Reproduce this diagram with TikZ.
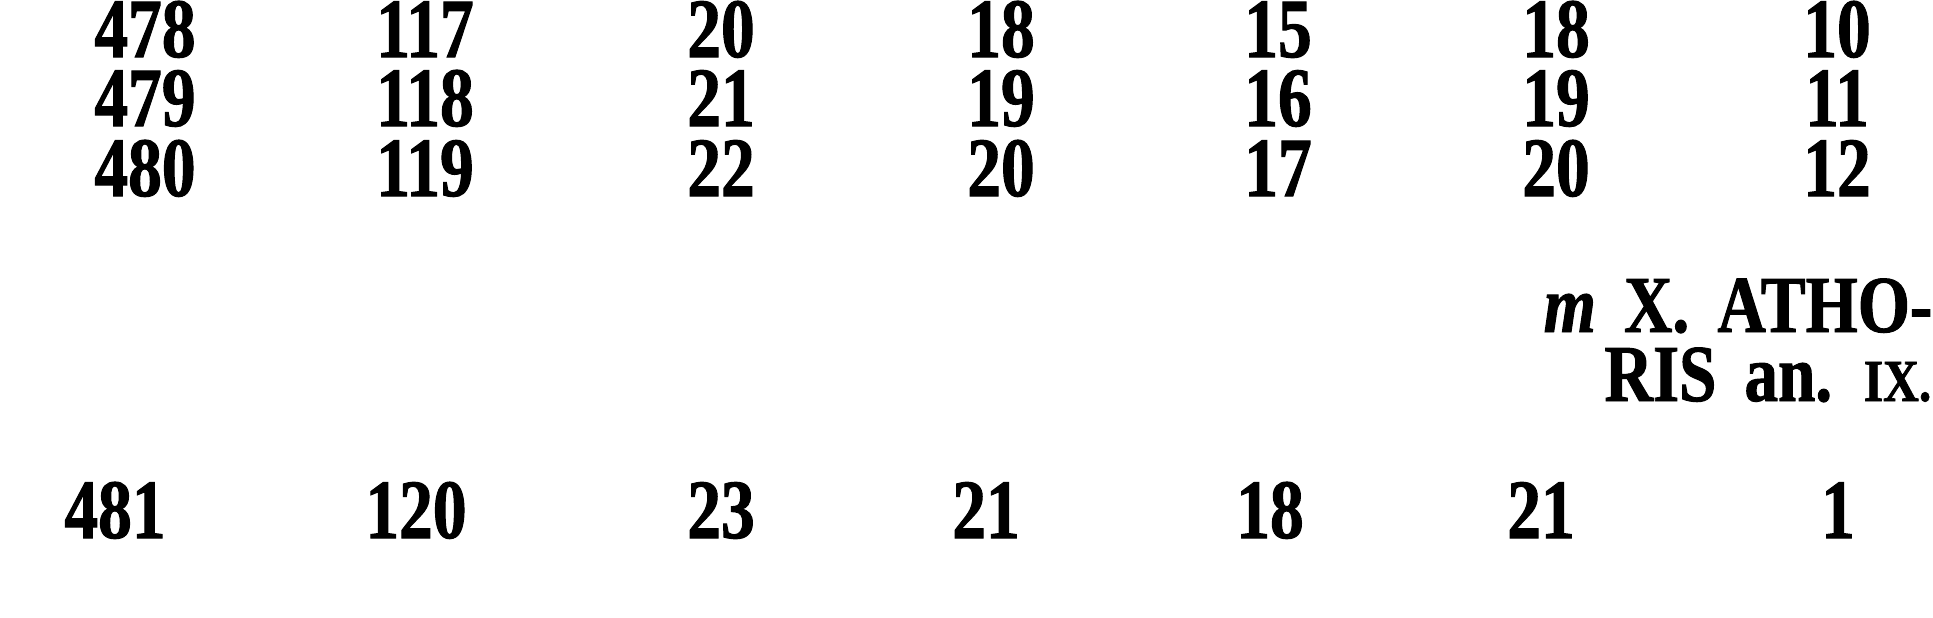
\documentclass[tikz,border=0pt]{standalone}
\usepackage{fontspec}
\newfontfamily\numfont{Liberation Serif}[FakeStretch=0.8,FakeBold=1.2]
\newfontfamily\capfont{Liberation Serif}[FakeStretch=0.83,FakeBold=1.2]
\begin{document}
\begin{tikzpicture}[x=0.1mm, y=-0.1mm,
    num/.style = {font=\numfont\bfseries\fontsize{24}{24}\selectfont, inner sep=0pt, text height=15.5pt, text depth=0pt, anchor=base},
    lbl/.style = {font=\capfont\bfseries\fontsize{23}{23}\selectfont, inner sep=0pt, text height=15.5pt, text depth=0pt, anchor=base east}]
    \useasboundingbox (0,0) rectangle (1933,617);
    % three rows at the top
    \foreach \y/\a/\b/\c/\d/\e/\f/\g [count=\r] in {57/478/117/20/18/15/18/10, 126/479/118/21/19/16/19/11, 196/480/119/22/20/17/20/12}
        \foreach \x/\v [count=\k] in {145/\a, 425/\b, 721/\c, 1001/\d, 1278/\e, 1556/\f, 1837/\g}
            \node[num] (n\r-\k) at (\x,\y) {\v};
    % heading of the new reign
    \node[lbl] (head1) at (1933,332) {{\itshape m}\hspace{8pt}X.\hspace{8pt}ATHO-};
    \node[lbl] (head2) at (1932,401) {RIS\hspace{8pt}an.\hspace{9pt}{\fontsize{17}{17}\selectfont IX.}};
    % last row
    \foreach \x/\v [count=\k] in {115/481, 416/120, 721/23, 986/21, 1270/18, 1541/21, 1838/1}
        \node[num] (n4-\k) at (\x,538) {\v};
\end{tikzpicture}
\end{document}
